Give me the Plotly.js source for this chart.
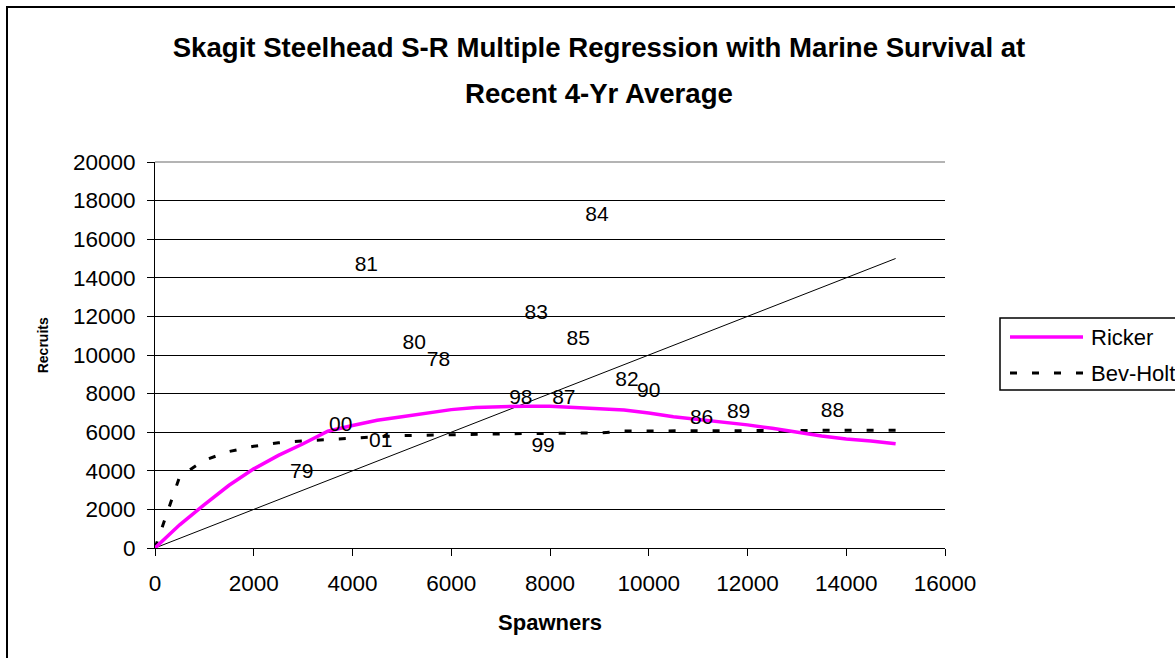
<!DOCTYPE html>
<html>
<head>
<meta charset="utf-8">
<script src="https://cdn.plot.ly/plotly-3.0.1.min.js"></script>
<style>
  html, body { margin: 0; padding: 0; background: #ffffff; }
  #chart { width: 1175px; height: 658px; }
</style>
</head>
<body>
<div id="chart"></div>
<script>
// ---- Data ----
const spawners = [0, 500, 1000, 1500, 2000, 2500, 3000, 3500, 4000, 4500, 5000,
  5500, 6000, 6500, 7000, 7500, 8000, 8500, 9000, 9500, 10000,
  10500, 11000, 11500, 12000, 12500, 13000, 13500, 14000, 14500, 15000];
const ricker = [0, 1200, 2250, 3250, 4100, 4800, 5400, 6050, 6350, 6620, 6800,
  7000, 7170, 7280, 7320, 7350, 7350, 7300, 7220, 7150, 7000,
  6800, 6660, 6530, 6380, 6200, 6000, 5800, 5650, 5550, 5400];
const bevHolt = [0, 3700, 4550, 5000, 5270, 5450, 5550, 5630, 5700, 5760, 5820,
  5850, 5880, 5900, 5920, 5930, 5940, 5950, 5960, 6060, 6060,
  6070, 6070, 6080, 6080, 6090, 6090, 6100, 6100, 6100, 6100];
const replacementX = [0, 15000];
const replacementY = [0, 15000];

const years = ['78', '79', '80', '81', '82', '83', '84', '85', '86', '87', '88', '89', '90', '98', '99', '00', '01'];
const yearSpawners = [5740, 2970, 5250, 4280, 9560, 7720, 8950, 8570, 11070, 8280, 13720, 11820, 10000, 7410, 7860, 3760, 4570];
const yearRecruits = [9690, 3920, 10570, 14620, 8650, 12130, 17220, 10780, 6680, 7710, 7040, 6990, 8080, 7710, 5270, 6360, 5530];

const xTicks = [0, 2000, 4000, 6000, 8000, 10000, 12000, 14000, 16000];
const yTicks = [0, 2000, 4000, 6000, 8000, 10000, 12000, 14000, 16000, 18000, 20000];

const titleLine1 = 'Skagit Steelhead S-R Multiple Regression with Marine Survival at';
const titleLine2 = 'Recent 4-Yr Average';

// ---- Layout helpers (pixel -> paper) ----
const W = 1175, H = 658;
const M = { l: 155, r: 230, t: 162, b: 110 };
const PW = W - M.l - M.r, PH = H - M.t - M.b;
const px = v => (v - M.l) / PW;
const py = v => (H - M.b - v) / PH;

const FONT = 'Liberation Sans, Arial, Helvetica, sans-serif';

const traces = [
  {
    x: replacementX, y: replacementY, type: 'scatter', mode: 'lines',
    line: { color: '#000000', width: 1 }, name: 'Replacement', showlegend: false, hoverinfo: 'skip'
  },
  {
    x: spawners, y: bevHolt, type: 'scatter', mode: 'lines',
    line: { color: '#000000', width: 3, dash: '7px,15px' }, name: 'Bev-Holt', showlegend: false
  },
  {
    x: spawners, y: ricker, type: 'scatter', mode: 'lines',
    line: { color: '#FF00FF', width: 3.5 }, name: 'Ricker', showlegend: false
  },
  {
    x: yearSpawners, y: yearRecruits, text: years, type: 'scatter', mode: 'text',
    textposition: 'middle center', textfont: { family: FONT, size: 21, color: '#000000' },
    name: 'Brood years', showlegend: false
  }
];

const legX0 = 1000, legX1 = 1190, legY0 = 318, legY1 = 390;
const legRowR = 337, legRowB = 373, legLineX0 = 1010, legLineX1 = 1083, legTextX = 1089;

const layout = {
  width: W, height: H,
  margin: M,
  paper_bgcolor: '#ffffff',
  plot_bgcolor: '#ffffff',
  font: { family: FONT, color: '#000000' },
  showlegend: false,
  title: {
    text: '<b>' + titleLine1 + '</b>',
    font: { family: FONT, size: 27.6, color: '#000000' },
    x: 599 / W, xref: 'container', xanchor: 'center',
    y: 1 - 47 / H, yref: 'container', yanchor: 'middle'
  },
  xaxis: {
    range: [0, 16000], tickvals: xTicks, ticktext: xTicks.map(String),
    showgrid: false, zeroline: false,
    showline: true, linecolor: '#000000', linewidth: 1,
    ticks: 'outside', ticklen: 7, tickcolor: '#000000', tickwidth: 1,
    ticklabelstandoff: 8,
    tickfont: { family: FONT, size: 22.5, color: '#000000' },
    title: { text: '<b>Spawners</b>', font: { family: FONT, size: 22, color: '#000000' }, standoff: 19 }
  },
  yaxis: {
    range: [0, 20000], tickvals: yTicks, ticktext: yTicks.map(String),
    showgrid: true, gridcolor: '#000000', gridwidth: 1, zeroline: false,
    showline: true, linecolor: '#000000', linewidth: 1,
    ticks: 'outside', ticklen: 7, tickcolor: '#000000', tickwidth: 1,
    ticklabelstandoff: 7,
    tickfont: { family: FONT, size: 22.5, color: '#000000' },
    title: { text: '&nbsp;&nbsp;&nbsp;&nbsp;&nbsp;<b>Recruits</b>', font: { family: FONT, size: 14, color: '#000000' }, standoff: 21 }
  },
  annotations: [
    {
      text: '<b>' + titleLine2 + '</b>', xref: 'paper', yref: 'paper',
      x: px(599), y: py(93), xanchor: 'center', yanchor: 'middle', showarrow: false,
      font: { family: FONT, size: 27.6, color: '#000000' }
    },
    {
      text: 'Ricker', xref: 'paper', yref: 'paper', x: px(legTextX), y: py(legRowR),
      xanchor: 'left', yanchor: 'middle', showarrow: false,
      font: { family: FONT, size: 22, color: '#000000' }
    },
    {
      text: 'Bev-Holt', xref: 'paper', yref: 'paper', x: px(legTextX), y: py(legRowB),
      xanchor: 'left', yanchor: 'middle', showarrow: false,
      font: { family: FONT, size: 22, color: '#000000' }
    }
  ],
  shapes: [
    // chart frame
    { type: 'rect', xref: 'paper', yref: 'paper', x0: px(7), x1: px(1200), y0: py(680), y1: py(7),
      line: { color: '#000000', width: 2 }, fillcolor: 'rgba(0,0,0,0)', layer: 'below' },
    // plot area top edge (grey)
    { type: 'line', xref: 'paper', yref: 'paper', x0: 0, x1: 1, y0: 1, y1: 1,
      line: { color: '#b4b4b4', width: 2 } },
    // legend box
    { type: 'rect', xref: 'paper', yref: 'paper', x0: px(legX0), x1: px(legX1), y0: py(legY1), y1: py(legY0),
      line: { color: '#000000', width: 1.5 }, fillcolor: '#ffffff' },
    { type: 'line', xref: 'paper', yref: 'paper', x0: px(legLineX0), x1: px(legLineX1), y0: py(legRowR), y1: py(legRowR),
      line: { color: '#FF00FF', width: 3.5 } },
    { type: 'line', xref: 'paper', yref: 'paper', x0: px(legLineX0), x1: px(legLineX1), y0: py(legRowB), y1: py(legRowB),
      line: { color: '#000000', width: 3, dash: '7px,15px' } }
  ]
};

Plotly.newPlot('chart', traces, layout, { displayModeBar: false, staticPlot: true });
</script>
</body>
</html>
